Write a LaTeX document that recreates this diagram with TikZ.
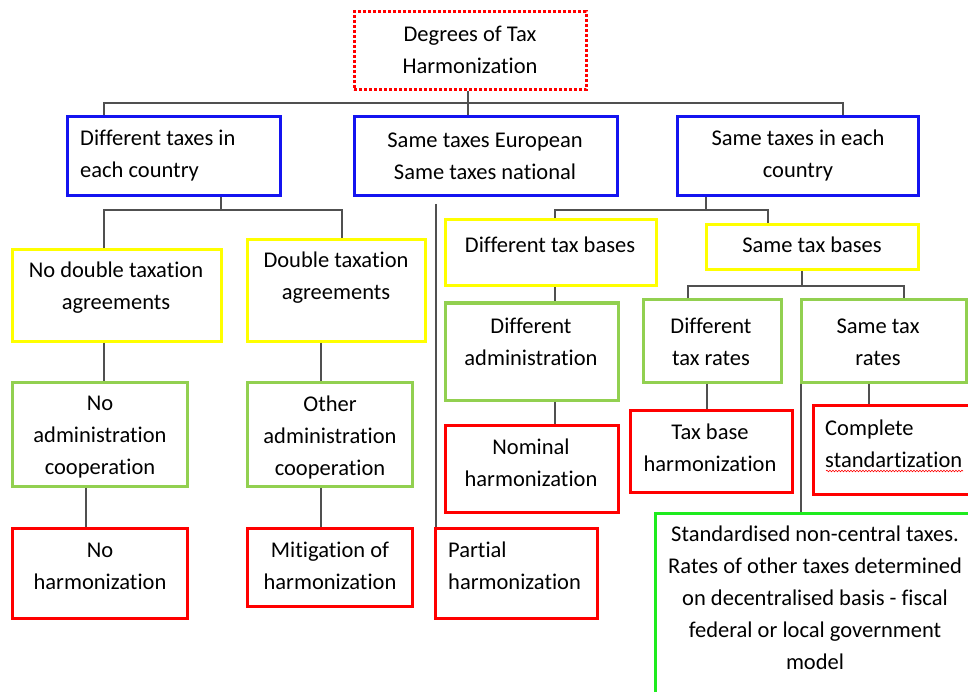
\documentclass[tikz,border=0pt]{standalone}
\usepackage{fontspec}
\setmainfont[Ligatures={NoCommon}]{Carlito}
\usetikzlibrary{fit,decorations.pathmorphing}
\definecolor{cblue}{RGB}{20,20,240}
\definecolor{cyel}{RGB}{255,255,0}
\definecolor{cgrn}{RGB}{146,208,80}
\definecolor{cred}{RGB}{255,0,0}
\definecolor{clime}{RGB}{30,235,30}
\definecolor{cline}{RGB}{80,80,80}
\begin{document}
\begin{tikzpicture}[x=1pt,y=-1pt,
  bx/.style={fit={#1}, inner sep=0pt, line width=3pt, draw},
  txt/.style={font=\fontsize{22.5}{32}\selectfont, align=center, inner sep=0pt},
  txl/.style={font=\fontsize{22.5}{32}\selectfont, align=left, inner sep=0pt, anchor=west},
  con/.style={draw=cline, line width=1.2pt}]
\clip (0,0) rectangle (968,692);
\fill[white] (0,0) rectangle (968,692);
% boxes
\node[bx={(354,12) (586,90)}, draw=cred, dash pattern=on 3pt off 2pt] (T) {};
\node[bx={(67,117) (280,196)}, draw=cblue] (A) {};
\node[bx={(354,117) (617,196)}, draw=cblue] (B) {};
\node[bx={(677,117) (918,196)}, draw=cblue] (C) {};
\node[bx={(12,250) (221,341)}, draw=cyel] (D) {};
\node[bx={(247,240) (425,341)}, draw=cyel] (E) {};
\node[bx={(12,382) (187,486)}, draw=cgrn] (F) {};
\node[bx={(247,382) (412,486)}, draw=cgrn] (G) {};
\node[bx={(12,528) (187,618)}, draw=cred] (H) {};
\node[bx={(247,528) (412,606)}, draw=cred] (I) {};
\node[bx={(435,528) (597,618)}, draw=cred] (J) {};
\node[bx={(445,220) (656,286)}, draw=cyel] (K) {};
\node[bx={(706,225) (918,270)}, draw=cyel] (L) {};
\node[bx={(445,303) (618,400)}, draw=cgrn] (M) {};
\node[bx={(445,425) (618,512)}, draw=cred] (N) {};
\node[bx={(643,300) (781,382)}, draw=cgrn] (O) {};
\node[bx={(801,300) (966,382)}, draw=cgrn] (P) {};
\node[bx={(630,410) (792,492)}, draw=cred] (Q) {};
\node[bx={(813,405) (990,494)}, draw=cred] (R) {};
\node[bx={(655,513) (990,720)}, draw=clime] (S) {};
% texts
\node[txt] (Tt) at (470,50) {Degrees of Tax\\Harmonization};
\node[txl] (At) at (80,156) {Different taxes in\\each country};
\node[txt] (Bt) at (485,156) {Same taxes European\\Same taxes national};
\node[txt] (Ct) at (798,156) {Same taxes in each\\country};
\node[txt] (Dt) at (116,288) {No double taxation\\agreements};
\node[txt] (Et) at (336,278) {Double taxation\\agreements};
\node[txt] (Ft) at (100,437) {No\\administration\\cooperation};
\node[txt] (Gt) at (330,437) {Other\\administration\\cooperation};
\node[txt] (Ht) at (100,566) {No\\harmonization};
\node[txt] (It) at (330,566) {Mitigation of\\harmonization};
\node[txl] (Jt) at (448,566) {Partial\\harmonization};
\node[txt] (Kt) at (550,245) {Different tax bases};
\node[txt] (Lt) at (812,245) {Same tax bases};
\node[txt] (Mt) at (531,342) {Different\\administration};
\node[txt] (Nt) at (531,463) {Nominal\\harmonization};
\node[txt] (Ot) at (711,342) {Different\\tax rates};
\node[txt] (Pt) at (878,342) {Same tax\\rates};
\node[txt] (Qt) at (710,448) {Tax base\\harmonization};
\node[txl] (Rt) at (825,444) {Complete\\standartization};
\node[txt] (St) at (815,598) {Standardised non-central taxes.\\Rates of other taxes determined\\on decentralised basis - fiscal\\federal or local government\\model};
\coordinate (wav1) at (826,471);
\coordinate (wav2) at (963,471);
\draw[cred, line width=0.6pt, decorate, decoration={snake, amplitude=0.8pt, segment length=3pt}] (wav1) -- (wav2);
% connectors
\draw[con] (T.south -| 468,0) -- (B.north -| 468,0);
\draw[con] (A.north -| 104,0) -- (104,103) -- (843,103) -- (C.north -| 843,0);
\draw[con] (A.south -| 221,0) -- (221,210);
\draw[con] (D.north -| 104,0) -- (104,210) -- (342,210) -- (E.north -| 342,0);
\draw[con] (D.south -| 104,0) -- (F.north -| 104,0);
\draw[con] (E.south -| 321,0) -- (G.north -| 321,0);
\draw[con] (F.south -| 86,0) -- (H.north -| 86,0);
\draw[con] (G.south -| 321,0) -- (I.north -| 321,0);
\coordinate (Bdrop) at (436,204);
\draw[con] (Bdrop) -- (J.north -| 436,0);
\draw[con] (C.south -| 706,0) -- (706,210);
\draw[con] (K.north -| 555,0) -- (555,210) -- (768,210) -- (L.north -| 768,0);
\draw[con] (K.south -| 555,0) -- (M.north -| 555,0);
\draw[con] (M.south -| 555,0) -- (N.north -| 555,0);
\draw[con] (L.south -| 802,0) -- (802,286);
\draw[con] (O.north -| 688,0) -- (688,286) -- (904,286) -- (P.north -| 904,0);
\draw[con] (O.south -| 707,0) -- (Q.north -| 707,0);
\draw[con] (P.south -| 869,0) -- (R.north -| 869,0);
\draw[con] (P.south -| 801,0) -- (S.north -| 801,0);
\end{tikzpicture}
\end{document}
